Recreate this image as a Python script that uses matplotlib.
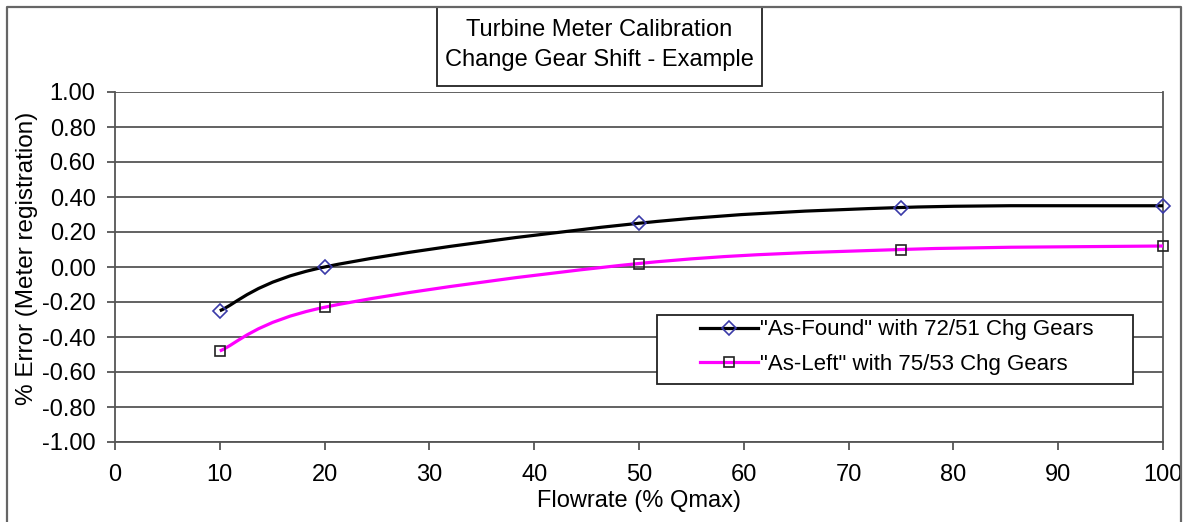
import matplotlib.pyplot as plt
from matplotlib.path import Path
from matplotlib.patches import PathPatch, Rectangle
from matplotlib.lines import Line2D
import numpy as np

plt.rcParams['font.family'] = ['Liberation Sans', 'DejaVu Sans']

# Datos
flujo = [10, 20, 50, 75, 100]
as_found = [-0.25, 0.00, 0.25, 0.34, 0.35]
as_left = [-0.48, -0.23, 0.02, 0.10, 0.12]

etiquetas = ['"As-Found" with 72/51 Chg Gears', '"As-Left" with 75/53 Chg Gears']
y_ticks = np.round(np.arange(-1.0, 1.01, 0.2), 2)
x_ticks = np.arange(0, 101, 10)


def curva_suave(x, y):
    # curva tipo Excel "smoothed line" con beziers cubicas
    p = np.column_stack([x, y]).astype(float)
    n = len(p)
    verts = [p[0]]
    codes = [Path.MOVETO]
    for i in range(n - 1):
        p0 = p[i - 1] if i > 0 else p[i]
        p3 = p[i + 2] if i + 2 < n else p[i + 1]
        c1 = p[i] + (p[i + 1] - p0) / 6.0
        c2 = p[i + 1] - (p3 - p[i]) / 6.0
        verts += [c1, c2, p[i + 1]]
        codes += [Path.CURVE4] * 3
    return Path(verts, codes)


W, H = 1186, 522
fig = plt.figure(figsize=(W / 100, H / 100), dpi=100)
ax = fig.add_axes([115 / W, 1 - 442 / H, (1163 - 115) / W, (442 - 92) / H])

gris = '#555555'
for lado in ['top', 'bottom', 'left', 'right']:
    ax.spines[lado].set_color(gris)
    ax.spines[lado].set_linewidth(1.3)
ax.spines['top'].set_visible(False)

ax.set_xlim(0, 100)
ax.set_ylim(-1.0, 1.0)
ax.set_xticks(x_ticks)
ax.set_yticks(y_ticks)
ax.set_yticklabels([f'{v:.2f}' if abs(v) > 1e-9 else '0.00' for v in y_ticks])
ax.tick_params(direction='out', length=6, width=1.3, color=gris, labelsize=17)
ax.tick_params(axis='x', pad=10)
ax.tick_params(axis='y', pad=8)
ax.grid(axis='y', color=gris, linewidth=1.3)
ax.set_axisbelow(True)

ax.add_patch(PathPatch(curva_suave(flujo, as_found), fill=False, edgecolor='black', lw=2.3, zorder=3))
ax.add_patch(PathPatch(curva_suave(flujo, as_left), fill=False, edgecolor='#ff00ff', lw=2.3, zorder=3))
ax.plot(flujo, as_found, linestyle='none', marker='D', markersize=7, markerfacecolor='none',
        markeredgecolor='#3a3aa8', markeredgewidth=1.2, zorder=4, clip_on=False)
ax.plot(flujo, as_left, linestyle='none', marker='s', markersize=7, markerfacecolor='none',
        markeredgecolor='#222222', markeredgewidth=1.2, zorder=4, clip_on=False)

ax.set_xlabel('Flowrate (% Qmax)', fontsize=17, labelpad=3)
ax.set_ylabel('% Error (Meter registration)', fontsize=17.5)
ax.yaxis.set_label_coords(-0.073, 0.525)

handles = [
    Line2D([], [], color='black', lw=2.3, marker='D', markersize=7, markerfacecolor='none',
           markeredgecolor='#3a3aa8', markeredgewidth=1.2),
    Line2D([], [], color='#ff00ff', lw=2.3, marker='s', markersize=7, markerfacecolor='none',
           markeredgecolor='#222222', markeredgewidth=1.2),
]
leg = fig.legend(handles, etiquetas, loc='center left', bbox_to_anchor=(700 / W, 1 - 347 / H),
                 fontsize=16, frameon=False, handlelength=2.6, handletextpad=0.1,
                 borderpad=0, labelspacing=0.6, borderaxespad=0)
fig.add_artist(Rectangle((657 / W, 1 - 384 / H), (1133 - 657) / W, (384 - 315) / H,
                         transform=fig.transFigure, facecolor='white', edgecolor='#222222',
                         lw=1.3, zorder=2))
leg.set_zorder(3)

fig.text((437 + 762) / 2 / W, 1 - 45 / H,
         'Turbine Meter Calibration\nChange Gear Shift - Example',
         ha='center', va='center', fontsize=17, linespacing=1.5)
fig.add_artist(Rectangle((437 / W, 1 - 86 / H), (762 - 437) / W, (86 - 7) / H,
                         transform=fig.transFigure, fill=False, edgecolor='#222222', lw=1.3))

# borde exterior del grafico
fig.add_artist(Line2D([7 / W, 7 / W, 1181 / W, 1181 / W], [0, 1 - 7 / H, 1 - 7 / H, 0],
                      transform=fig.transFigure, color='#666666', lw=1.6))

fig.savefig('out.png', dpi=100)
